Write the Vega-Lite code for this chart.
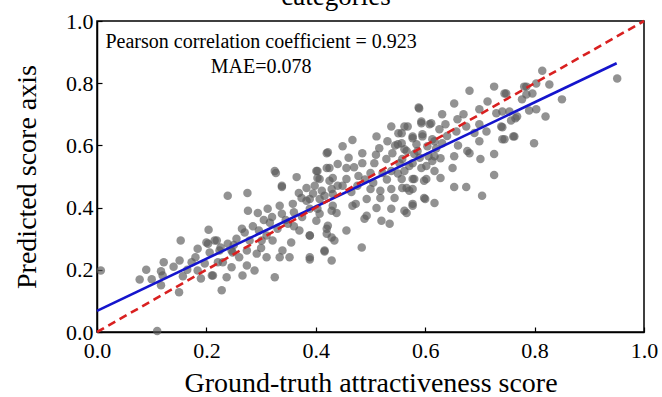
{
  "$schema": "https://vega.github.io/schema/vega-lite/v6.json",
  "width": 547,
  "height": 311,
  "autosize": {"type": "none"},
  "padding": {"left": 97, "top": 21, "right": 18, "bottom": 65},
  "config": {
    "view": {"stroke": "#000", "strokeWidth": 1.5},
    "axis": {"domainColor": "#000", "domainWidth": 1.5, "tickColor": "#000", "tickSize": -5, "tickWidth": 1.2, "labelFont": "Liberation Serif", "labelFontSize": 22, "labelColor": "#000", "titleFont": "Liberation Serif", "titleFontSize": 28, "titleFontWeight": "normal", "titleColor": "#000", "grid": false, "labelFlush": false, "labelOverlap": false}
  },
  "datasets": {
    "pts": [
      {"x":0.007,"y":0.198},{"x":0.078,"y":0.169},{"x":0.11,"y":0.003},{"x":0.122,"y":0.224},{"x":0.117,"y":0.195},{"x":0.12,"y":0.182},{"x":0.117,"y":0.15},{"x":0.15,"y":0.128},{"x":0.153,"y":0.294},{"x":0.151,"y":0.23},{"x":0.157,"y":0.179},{"x":0.173,"y":0.224},{"x":0.184,"y":0.268},{"x":0.184,"y":0.198},{"x":0.19,"y":0.172},{"x":0.204,"y":0.329},{"x":0.203,"y":0.284},{"x":0.206,"y":0.256},{"x":0.21,"y":0.182},{"x":0.215,"y":0.294},{"x":0.226,"y":0.272},{"x":0.228,"y":0.134},{"x":0.23,"y":0.224},{"x":0.237,"y":0.176},{"x":0.246,"y":0.262},{"x":0.246,"y":0.208},
      {"x":0.42,"y":0.575},{"x":0.327,"y":0.511},{"x":0.365,"y":0.498},{"x":0.401,"y":0.518},{"x":0.403,"y":0.495},{"x":0.42,"y":0.527},{"x":0.425,"y":0.486},{"x":0.338,"y":0.466},{"x":0.398,"y":0.47},{"x":0.239,"y":0.438},{"x":0.275,"y":0.447},{"x":0.369,"y":0.447},{"x":0.374,"y":0.431},{"x":0.389,"y":0.428},{"x":0.416,"y":0.438},{"x":0.431,"y":0.444},{"x":0.276,"y":0.39},{"x":0.294,"y":0.383},{"x":0.312,"y":0.396},{"x":0.334,"y":0.406},{"x":0.338,"y":0.38},{"x":0.358,"y":0.412},{"x":0.403,"y":0.396},{"x":0.429,"y":0.39},{"x":0.265,"y":0.332},{"x":0.296,"y":0.326},{"x":0.316,"y":0.351},{"x":0.33,"y":0.332},{"x":0.349,"y":0.348},{"x":0.37,"y":0.326},{"x":0.389,"y":0.31},{"x":0.42,"y":0.332},{"x":0.429,"y":0.304},{"x":0.401,"y":0.358},{"x":0.2,"y":0.288},{"x":0.219,"y":0.294},{"x":0.239,"y":0.284},{"x":0.255,"y":0.3},{"x":0.279,"y":0.294},{"x":0.301,"y":0.294},{"x":0.321,"y":0.294},{"x":0.339,"y":0.262},{"x":0.355,"y":0.288},{"x":0.224,"y":0.262},{"x":0.248,"y":0.256},{"x":0.274,"y":0.262},{"x":0.292,"y":0.252},{"x":0.31,"y":0.24},{"x":0.334,"y":0.24},{"x":0.352,"y":0.24},{"x":0.389,"y":0.233},{"x":0.416,"y":0.262},{"x":0.429,"y":0.23},{"x":0.197,"y":0.22},{"x":0.221,"y":0.224},{"x":0.274,"y":0.214},{"x":0.288,"y":0.198},{"x":0.266,"y":0.182},{"x":0.212,"y":0.182},{"x":0.325,"y":0.176},
      {"x":0.588,"y":0.722},{"x":0.538,"y":0.661},{"x":0.551,"y":0.639},{"x":0.562,"y":0.661},{"x":0.593,"y":0.671},{"x":0.608,"y":0.668},{"x":0.511,"y":0.629},{"x":0.467,"y":0.617},{"x":0.449,"y":0.597},{"x":0.422,"y":0.578},{"x":0.531,"y":0.613},{"x":0.55,"y":0.604},{"x":0.577,"y":0.623},{"x":0.595,"y":0.636},{"x":0.617,"y":0.613},{"x":0.485,"y":0.575},{"x":0.516,"y":0.591},{"x":0.54,"y":0.575},{"x":0.562,"y":0.588},{"x":0.58,"y":0.572},{"x":0.606,"y":0.565},{"x":0.425,"y":0.527},{"x":0.456,"y":0.527},{"x":0.485,"y":0.543},{"x":0.507,"y":0.543},{"x":0.529,"y":0.556},{"x":0.553,"y":0.543},{"x":0.577,"y":0.543},{"x":0.602,"y":0.534},{"x":0.617,"y":0.518},{"x":0.403,"y":0.518},{"x":0.407,"y":0.492},{"x":0.431,"y":0.495},{"x":0.456,"y":0.492},{"x":0.478,"y":0.502},{"x":0.5,"y":0.511},{"x":0.522,"y":0.511},{"x":0.538,"y":0.518},{"x":0.562,"y":0.518},{"x":0.58,"y":0.492},{"x":0.602,"y":0.492},{"x":0.383,"y":0.463},{"x":0.411,"y":0.454},{"x":0.429,"y":0.46},{"x":0.449,"y":0.47},{"x":0.476,"y":0.47},{"x":0.5,"y":0.46},{"x":0.518,"y":0.454},{"x":0.538,"y":0.46},{"x":0.558,"y":0.463},{"x":0.571,"y":0.454},{"x":0.383,"y":0.422},{"x":0.407,"y":0.428},{"x":0.431,"y":0.406},{"x":0.473,"y":0.412},{"x":0.493,"y":0.428},{"x":0.518,"y":0.431},{"x":0.544,"y":0.431},{"x":0.577,"y":0.406},{"x":0.6,"y":0.428},{"x":0.389,"y":0.396},{"x":0.407,"y":0.38},{"x":0.438,"y":0.383},{"x":0.467,"y":0.406},{"x":0.493,"y":0.374},{"x":0.511,"y":0.399},{"x":0.538,"y":0.396},{"x":0.562,"y":0.39},{"x":0.489,"y":0.364},{"x":0.52,"y":0.358},{"x":0.535,"y":0.348},{"x":0.422,"y":0.342},{"x":0.389,"y":0.31},{"x":0.42,"y":0.316},{"x":0.434,"y":0.294},{"x":0.456,"y":0.326},{"x":0.484,"y":0.272},{"x":0.416,"y":0.259},{"x":0.389,"y":0.24},
      {"x":0.681,"y":0.776},{"x":0.726,"y":0.789},{"x":0.745,"y":0.767},{"x":0.785,"y":0.789},{"x":0.803,"y":0.799},{"x":0.653,"y":0.735},{"x":0.714,"y":0.741},{"x":0.589,"y":0.719},{"x":0.699,"y":0.716},{"x":0.73,"y":0.703},{"x":0.754,"y":0.709},{"x":0.631,"y":0.7},{"x":0.659,"y":0.684},{"x":0.765,"y":0.687},{"x":0.611,"y":0.671},{"x":0.637,"y":0.668},{"x":0.675,"y":0.661},{"x":0.699,"y":0.668},{"x":0.739,"y":0.661},{"x":0.568,"y":0.661},{"x":0.593,"y":0.677},{"x":0.626,"y":0.652},{"x":0.657,"y":0.645},{"x":0.712,"y":0.645},{"x":0.557,"y":0.639},{"x":0.577,"y":0.629},{"x":0.595,"y":0.629},{"x":0.613,"y":0.62},{"x":0.745,"y":0.62},{"x":0.763,"y":0.629},{"x":0.557,"y":0.607},{"x":0.584,"y":0.604},{"x":0.604,"y":0.597},{"x":0.631,"y":0.607},{"x":0.699,"y":0.613},{"x":0.566,"y":0.582},{"x":0.586,"y":0.582},{"x":0.617,"y":0.565},{"x":0.628,"y":0.559},{"x":0.653,"y":0.565},{"x":0.677,"y":0.582},{"x":0.681,"y":0.575},{"x":0.701,"y":0.556},{"x":0.726,"y":0.572},{"x":0.558,"y":0.556},{"x":0.571,"y":0.534},{"x":0.593,"y":0.527},{"x":0.613,"y":0.55},{"x":0.65,"y":0.527},{"x":0.557,"y":0.492},{"x":0.577,"y":0.492},{"x":0.598,"y":0.486},{"x":0.628,"y":0.495},{"x":0.726,"y":0.505},{"x":0.566,"y":0.463},{"x":0.577,"y":0.46},{"x":0.653,"y":0.466},{"x":0.675,"y":0.466},{"x":0.598,"y":0.431},{"x":0.617,"y":0.415},{"x":0.577,"y":0.412},{"x":0.704,"y":0.438},{"x":0.566,"y":0.383},
      {"x":0.814,"y":0.84},{"x":0.951,"y":0.815},{"x":0.781,"y":0.789},{"x":0.827,"y":0.796},{"x":0.748,"y":0.767},{"x":0.796,"y":0.767},{"x":0.785,"y":0.764},{"x":0.777,"y":0.748},{"x":0.85,"y":0.748},{"x":0.741,"y":0.709},{"x":0.803,"y":0.716},{"x":0.79,"y":0.712},{"x":0.82,"y":0.693},{"x":0.768,"y":0.693},{"x":0.757,"y":0.68},{"x":0.741,"y":0.658},{"x":0.761,"y":0.629},{"x":0.741,"y":0.62},{"x":0.799,"y":0.607},
      {"x":0.325,"y":0.518},{"x":0.338,"y":0.47},{"x":0.27,"y":0.32},{"x":0.285,"y":0.34},{"x":0.305,"y":0.36},{"x":0.32,"y":0.37},{"x":0.345,"y":0.36},{"x":0.36,"y":0.385},{"x":0.375,"y":0.37},{"x":0.395,"y":0.445},{"x":0.44,"y":0.47},{"x":0.465,"y":0.45},{"x":0.47,"y":0.53},{"x":0.49,"y":0.49},{"x":0.505,"y":0.48},{"x":0.51,"y":0.57},{"x":0.53,"y":0.49},{"x":0.545,"y":0.6},{"x":0.55,"y":0.51},{"x":0.59,"y":0.56},{"x":0.62,"y":0.59},{"x":0.64,"y":0.63},{"x":0.66,"y":0.6},{"x":0.67,"y":0.7},{"x":0.69,"y":0.64},{"x":0.46,"y":0.56},{"x":0.44,"y":0.54},{"x":0.36,"y":0.34},{"x":0.31,"y":0.31},{"x":0.25,"y":0.28},{"x":0.26,"y":0.24},{"x":0.3,"y":0.27},{"x":0.18,"y":0.24},{"x":0.165,"y":0.2},{"x":0.14,"y":0.21},{"x":0.1,"y":0.17},{"x":0.09,"y":0.2}
    ],
    "fit": [{"x": 0, "y": 0.068}, {"x": 0.95, "y": 0.864}],
    "ideal": [{"x": 0, "y": 0}, {"x": 1, "y": 1}],
    "notes": [
      {"x": 0.3, "y": 0.914, "label": "Pearson correlation coefficient = 0.923"},
      {"x": 0.3, "y": 0.834, "label": "MAE=0.078"}
    ],
    "heading": [{"x": 0.437, "y": 1.052, "label": "categories"}]
  },
  "encoding": {
    "x": {"field": "x", "type": "quantitative", "scale": {"domain": [0, 1], "nice": false, "zero": false},
          "axis": {"values": [0, 0.2, 0.4, 0.6, 0.8, 1], "format": ".1f", "labelPadding": 13, "title": "Ground-truth attractiveness score", "titlePadding": 8}},
    "y": {"field": "y", "type": "quantitative", "scale": {"domain": [0, 1], "nice": false, "zero": false},
          "axis": {"values": [0, 0.2, 0.4, 0.6, 0.8, 1], "format": ".1f", "labelPadding": 9, "title": "Predicted score axis", "titlePadding": 24}}
  },
  "layer": [
    {"data": {"name": "pts"}, "mark": {"type": "circle", "size": 72, "color": "#5a5a5a", "opacity": 0.66}},
    {"data": {"name": "fit"}, "mark": {"type": "line", "color": "#1414cc", "strokeWidth": 2.6}},
    {"data": {"name": "ideal"}, "mark": {"type": "line", "color": "#d92020", "strokeWidth": 2.6, "strokeDash": [8, 5]}},
    {"data": {"name": "notes"}, "mark": {"type": "text", "font": "Liberation Serif", "fontSize": 20, "align": "center", "baseline": "alphabetic", "color": "#000"},
     "encoding": {"text": {"field": "label"}}},
    {"data": {"name": "heading"}, "mark": {"type": "text", "font": "Liberation Serif", "fontSize": 27, "align": "center", "baseline": "alphabetic", "color": "#000", "clip": false},
     "encoding": {"text": {"field": "label"}}}
  ]
}
